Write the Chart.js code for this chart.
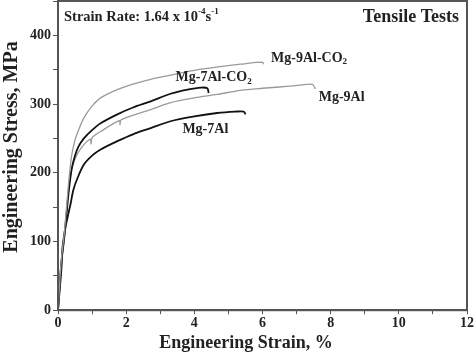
<!DOCTYPE html>
<html>
<head>
<meta charset="utf-8">
<script src="https://cdn.jsdelivr.net/npm/chart.js@4.4.1/dist/chart.umd.min.js"></script>
<style>
  html, body { margin: 0; padding: 0; background: #fff; overflow: hidden; }
  #wrap { width: 474px; height: 353px; position: relative; }
</style>
</head>
<body>
<div id="wrap"><canvas id="mychart"></canvas></div>
<script>
// strain (%) / stress (MPa)
const mg9alco2X = [0, 0.05, 0.1, 0.18, 0.25, 0.32, 0.4, 0.5, 0.6, 0.76, 1.0, 1.25, 1.74, 2.2, 2.72, 3.3, 4.0, 4.7, 5.36, 6.0, 6.03];
const mg9alco2Y = [0, 40, 75, 110, 150, 190, 225, 248, 262, 280, 297, 309, 321, 329, 336, 342, 349, 354, 358, 361, 358];

const mg7alco2X = [0, 0.05, 0.1, 0.18, 0.25, 0.32, 0.4, 0.5, 0.6, 0.76, 1.0, 1.25, 1.74, 2.2, 2.72, 3.3, 3.8, 4.2, 4.38, 4.42];
const mg7alco2Y = [0, 38, 70, 105, 140, 175, 205, 225, 238, 250, 262, 272, 285, 295, 304, 315, 321, 324, 323, 316];

const mg9alX = [0, 0.05, 0.1, 0.18, 0.25, 0.32, 0.4, 0.5, 0.6, 0.76, 0.95, 0.97, 1.0, 1.25, 1.8, 1.82, 1.85, 2.72, 3.3, 4.0, 4.67, 5.36, 6.0, 6.8, 7.45, 7.5, 7.55];
const mg9alY = [0, 38, 70, 100, 140, 180, 205, 220, 230, 241, 249, 242, 251, 260, 276, 270, 277, 292, 302, 309, 314, 320, 323, 326, 329, 327, 322];

const mg7alX = [0, 0.05, 0.1, 0.13, 0.2, 0.28, 0.37, 0.45, 0.57, 0.76, 1.0, 1.25, 1.74, 2.2, 2.72, 3.3, 4.0, 4.67, 5.2, 5.45, 5.5];
const mg7alY = [0, 30, 60, 90, 115, 135, 155, 175, 192, 212, 225, 234, 246, 256, 265, 275, 282, 287, 289, 289, 285];

const seriesNames = ['Mg-9Al-CO2', 'Mg-7Al-CO2', 'Mg-9Al', 'Mg-7Al'];
const seriesColors = ['#9a9a9a', '#111111', '#9a9a9a', '#111111'];

// label anchors (data units)
const labelX = [6.25, 3.45, 7.65, 3.65];
const labelY = [367, 339, 310, 263];

const xTitle = 'Engineering Strain, %';
const yTitle = 'Engineering Stress, MPa';

function pts(xs, ys) {
    let out = [];
    for (let i in xs) {
        out.push({ x: xs[i], y: ys[i] });
    }
    return out;
}

const serif = '"Liberation Serif", "DejaVu Serif", serif';

// text with a sub/superscript piece: parts = [[text, shift]]
function drawParts(ctx, parts, x, y, size) {
    let cx = x;
    for (let p of parts) {
        let s = p[1] === 0 ? size : Math.round(size * 0.62);
        ctx.font = 'bold ' + s + 'px ' + serif;
        ctx.fillText(p[0], cx, y + p[1]);
        cx += ctx.measureText(p[0]).width;
    }
}

const textPlugin = {
    id: 'texts',
    afterDraw(chart) {
        let ctx = chart.ctx;
        let a = chart.chartArea;
        let xs = chart.scales.x, ys = chart.scales.y;
        ctx.save();
        // frame
        ctx.strokeStyle = '#555';
        ctx.lineWidth = 2;
        ctx.strokeRect(a.left, a.top, a.right - a.left, a.bottom - a.top);

        ctx.fillStyle = '#222';
        ctx.textBaseline = 'middle';
        ctx.textAlign = 'left';
        drawParts(ctx, [['Strain Rate: 1.64 x 10', 0], ['-4', -5], ['s', 0], ['-1', -5]], a.left + 6, 17, 14.5);

        ctx.textAlign = 'right';
        ctx.font = 'bold 18px ' + serif;
        ctx.fillText('Tensile Tests', a.right - 8, 17);

        ctx.textAlign = 'left';
        for (let i in seriesNames) {
            let px = xs.getPixelForValue(labelX[i]);
            let py = ys.getPixelForValue(labelY[i]);
            let name = seriesNames[i];
            if (name.endsWith('CO2')) {
                drawParts(ctx, [[name.slice(0, -1), 0], ['2', 4]], px, py, 14);
            } else {
                drawParts(ctx, [[name, 0]], px, py, 14);
            }
        }

        // axis titles
        ctx.textAlign = 'center';
        ctx.font = 'bold 18px ' + serif;
        ctx.fillText(xTitle, 246, 343);
        ctx.translate(12, 147);
        ctx.rotate(-Math.PI / 2);
        ctx.font = 'bold 20px ' + serif;
        ctx.fillText(yTitle, 0, 0);
        ctx.restore();
    }
};

let datasets = [];
let allX = [mg9alco2X, mg7alco2X, mg9alX, mg7alX];
let allY = [mg9alco2Y, mg7alco2Y, mg9alY, mg7alY];
for (let i in seriesNames) {
    datasets.push({
        label: seriesNames[i],
        data: pts(allX[i], allY[i]),
        borderColor: seriesColors[i],
        borderWidth: seriesColors[i] === '#111111' ? 1.8 : 1.3,
        pointRadius: 0,
        tension: 0.3,
        fill: false
    });
}

let ctx = document.getElementById('mychart');
let myChart = new Chart(ctx, {
    type: 'line',
    data: { datasets: datasets },
    options: {
        responsive: true,
        maintainAspectRatio: false,
        animation: false,
        layout: { padding: { left: 28, top: 1, right: 0, bottom: 20 } },
        plugins: { legend: { display: false }, tooltip: { enabled: false } },
        scales: {
            x: {
                type: 'linear',
                min: 0,
                max: 12,
                afterFit: function (s) { s.paddingRight = 7; },
                ticks: {
                    stepSize: 1,
                    autoSkip: false,
                    maxRotation: 0,
                    padding: 1,
                    color: '#222',
                    font: { family: serif, size: 14, weight: 'bold' },
                    callback: v => (v % 2 === 0 ? v : '')
                },
                grid: { drawOnChartArea: false, tickLength: 4, color: '#555' },
                border: { color: '#555', width: 2 }
            },
            y: {
                min: 0,
                max: 450,
                afterFit: function (s) { s.paddingTop = 0; },
                ticks: {
                    stepSize: 50,
                    autoSkip: false,
                    padding: 2,
                    color: '#222',
                    font: { family: serif, size: 14, weight: 'bold' },
                    callback: v => (v % 100 === 0 ? v : '')
                },
                grid: { drawOnChartArea: false, tickLength: 5, color: '#555' },
                border: { color: '#555', width: 2 }
            }
        }
    },
    plugins: [textPlugin]
});
</script>
</body>
</html>
